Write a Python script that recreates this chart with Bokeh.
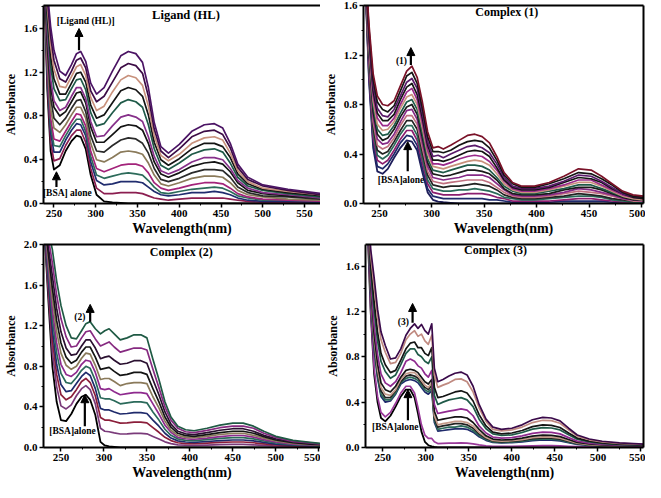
from bokeh.plotting import figure
from bokeh.layouts import column, row
from bokeh.models import (Range1d, SingleIntervalTicker, FixedTicker, LinearAxis, Label, Arrow,
                          NormalHead, NumeralTickFormatter)
from bokeh.embed import file_html
from bokeh.resources import INLINE

FONT = "Liberation Serif"

# ---------------- Panel 1 : Ligand (HL) ----------------
wl_ligand = [238, 242, 246, 250, 257, 264, 271, 277, 282, 288,
             294, 301, 310, 320, 330, 339, 348, 356, 363, 370,
             378, 387, 400, 415, 430, 442, 452, 461, 470, 482,
             500, 530, 570]
ligand_curves = [
    [2.40,1.95,1.62,1.40,1.21,1.17,1.27,1.37,1.39,1.30, 1.10,1.00,1.06,1.21,1.35,1.39,1.37,1.29,1.06,0.74, 0.52,0.46,0.54,0.66,0.72,0.73,0.69,0.55,0.36,0.24, 0.17,0.13,0.09],
    [2.38,1.88,1.53,1.31,1.14,1.11,1.21,1.31,1.33,1.24, 1.03,0.93,0.98,1.11,1.24,1.28,1.26,1.19,0.98,0.68, 0.48,0.42,0.50,0.61,0.66,0.67,0.63,0.51,0.33,0.22, 0.16,0.12,0.08],
    [2.36,1.81,1.44,1.23,1.07,1.06,1.16,1.25,1.27,1.17, 0.97,0.85,0.89,1.02,1.13,1.17,1.15,1.08,0.89,0.62, 0.44,0.39,0.45,0.55,0.60,0.61,0.58,0.46,0.30,0.20, 0.14,0.11,0.08],
    [2.34,1.73,1.35,1.14,1.00,1.00,1.10,1.19,1.20,1.11, 0.90,0.78,0.81,0.92,1.03,1.06,1.04,0.98,0.81,0.56, 0.40,0.35,0.41,0.50,0.55,0.55,0.52,0.42,0.27,0.18, 0.13,0.10,0.07],
    [2.32,1.66,1.26,1.05,0.94,0.95,1.05,1.13,1.14,1.04, 0.83,0.71,0.73,0.83,0.92,0.95,0.93,0.88,0.72,0.50, 0.35,0.31,0.37,0.45,0.49,0.50,0.47,0.37,0.24,0.16, 0.12,0.09,0.06],
    [2.30,1.57,1.14,0.94,0.85,0.88,0.98,1.06,1.06,0.96, 0.75,0.61,0.62,0.71,0.79,0.81,0.79,0.75,0.61,0.43, 0.30,0.27,0.31,0.38,0.42,0.42,0.40,0.32,0.21,0.14, 0.10,0.08,0.05],
    [2.28,1.52,1.07,0.88,0.80,0.84,0.93,1.01,1.02,0.92, 0.70,0.56,0.56,0.63,0.70,0.72,0.71,0.67,0.55,0.38, 0.27,0.24,0.28,0.34,0.37,0.38,0.36,0.29,0.19,0.12, 0.09,0.07,0.05],
    [2.26,1.44,0.97,0.78,0.72,0.78,0.87,0.94,0.95,0.84, 0.62,0.48,0.47,0.53,0.58,0.60,0.59,0.55,0.46,0.32, 0.22,0.20,0.23,0.28,0.31,0.31,0.30,0.24,0.15,0.10, 0.07,0.06,0.04],
    [2.24,1.36,0.87,0.69,0.65,0.72,0.81,0.88,0.88,0.78, 0.55,0.40,0.38,0.42,0.47,0.48,0.47,0.45,0.37,0.26, 0.18,0.16,0.19,0.23,0.25,0.25,0.24,0.19,0.12,0.08, 0.06,0.04,0.03],
    [2.22,1.28,0.78,0.59,0.57,0.66,0.75,0.82,0.81,0.71, 0.48,0.32,0.29,0.32,0.35,0.36,0.36,0.34,0.28,0.19, 0.14,0.12,0.14,0.17,0.19,0.19,0.18,0.14,0.09,0.06, 0.04,0.03,0.02],
    [2.20,1.23,0.71,0.53,0.52,0.62,0.71,0.77,0.77,0.66, 0.43,0.26,0.23,0.25,0.27,0.28,0.27,0.26,0.21,0.15, 0.10,0.09,0.11,0.13,0.14,0.15,0.14,0.11,0.07,0.05, 0.03,0.03,0.02],
    [2.18,1.18,0.65,0.47,0.47,0.58,0.67,0.73,0.72,0.62, 0.38,0.21,0.17,0.18,0.20,0.20,0.20,0.19,0.15,0.11, 0.08,0.07,0.08,0.10,0.10,0.11,0.10,0.08,0.05,0.03, 0.02,0.02,0.01],
    [2.16,1.11,0.56,0.39,0.41,0.53,0.62,0.67,0.67,0.56, 0.32,0.14,0.09,0.09,0.10,0.10,0.10,0.09,0.07,0.05, 0.04,0.03,0.04,0.05,0.05,0.05,0.05,0.04,0.03,0.02, 0.01,0.01,0.01],
]
bsa_ligand = [2.10,1.05,0.48,0.31,0.35,0.48,0.57,0.62,0.61,0.50, 0.26,0.08,0.02,0.01,0.005,0,0,0,0,0, 0,0,0,0,0,0,0,0,0,0, 0,0,0]
colors_ligand = ["#4b1464","#3d0c46","#c8917c","#141414","#1f5a48","#86308a","#141414",
                 "#2a2a2a","#8a7a5a","#a3237a","#2d6b5a","#202c6e","#8b1e50"]

# ---------------- Panel 2 : Complex (1) ----------------
wl_c1 = [236, 240, 244, 248, 253, 258, 264, 270, 276, 281,
         286, 291, 296, 301, 306, 311, 318, 326, 334, 341,
         348, 355, 362, 369, 377, 386, 398, 412, 426, 440,
         452, 462, 472, 482, 492, 502]
c1_curves = [
    [2.00,1.45,1.05,0.87,0.80,0.79,0.83,0.95,1.07,1.11, 1.02,0.82,0.58,0.45,0.46,0.44,0.47,0.51,0.55,0.56, 0.54,0.49,0.38,0.25,0.17,0.14,0.14,0.17,0.22,0.28, 0.27,0.22,0.16,0.10,0.07,0.06],
    [1.99,1.41,1.00,0.82,0.76,0.74,0.79,0.91,1.03,1.06, 0.97,0.77,0.54,0.42,0.42,0.41,0.43,0.47,0.50,0.51, 0.50,0.45,0.35,0.23,0.16,0.13,0.13,0.16,0.20,0.25, 0.24,0.20,0.15,0.09,0.06,0.05],
    [1.98,1.38,0.95,0.77,0.71,0.70,0.76,0.87,0.98,1.01, 0.93,0.73,0.50,0.38,0.39,0.37,0.40,0.43,0.46,0.47, 0.45,0.41,0.32,0.21,0.14,0.12,0.12,0.14,0.18,0.23, 0.22,0.18,0.13,0.08,0.06,0.05],
    [1.97,1.35,0.91,0.73,0.67,0.67,0.72,0.84,0.94,0.97, 0.88,0.69,0.47,0.35,0.35,0.34,0.36,0.39,0.42,0.43, 0.42,0.38,0.29,0.19,0.13,0.11,0.11,0.13,0.17,0.21, 0.20,0.17,0.12,0.08,0.05,0.04],
    [1.96,1.32,0.87,0.69,0.63,0.63,0.69,0.80,0.90,0.93, 0.84,0.65,0.43,0.32,0.32,0.31,0.33,0.36,0.38,0.39, 0.38,0.34,0.27,0.18,0.12,0.10,0.10,0.12,0.15,0.19, 0.19,0.15,0.11,0.07,0.05,0.04],
    [1.95,1.28,0.83,0.64,0.59,0.60,0.66,0.77,0.86,0.88, 0.80,0.61,0.40,0.30,0.29,0.28,0.30,0.32,0.34,0.35, 0.34,0.31,0.24,0.16,0.11,0.09,0.09,0.11,0.14,0.17, 0.17,0.14,0.10,0.06,0.04,0.03],
    [1.94,1.25,0.79,0.60,0.55,0.56,0.63,0.73,0.82,0.84, 0.76,0.57,0.36,0.27,0.26,0.25,0.27,0.29,0.31,0.31, 0.30,0.27,0.21,0.14,0.10,0.08,0.08,0.10,0.12,0.15, 0.15,0.12,0.09,0.06,0.04,0.03],
    [1.93,1.22,0.74,0.56,0.51,0.53,0.60,0.70,0.78,0.80, 0.72,0.53,0.33,0.24,0.23,0.22,0.23,0.25,0.27,0.27, 0.26,0.24,0.19,0.12,0.08,0.07,0.07,0.08,0.11,0.13, 0.13,0.11,0.08,0.05,0.03,0.03],
    [1.92,1.19,0.70,0.52,0.48,0.49,0.56,0.66,0.75,0.76, 0.68,0.49,0.30,0.21,0.20,0.19,0.20,0.21,0.23,0.23, 0.23,0.21,0.16,0.11,0.07,0.06,0.06,0.07,0.09,0.12, 0.11,0.09,0.07,0.04,0.03,0.02],
    [1.91,1.16,0.66,0.47,0.44,0.46,0.53,0.63,0.71,0.71, 0.64,0.45,0.26,0.18,0.17,0.16,0.17,0.18,0.19,0.19, 0.19,0.17,0.13,0.09,0.06,0.05,0.05,0.06,0.08,0.10, 0.09,0.08,0.06,0.04,0.02,0.02],
    [1.90,1.13,0.62,0.43,0.40,0.42,0.50,0.59,0.67,0.67, 0.60,0.41,0.23,0.15,0.14,0.13,0.14,0.14,0.15,0.16, 0.15,0.14,0.11,0.07,0.05,0.04,0.04,0.05,0.06,0.08, 0.07,0.06,0.04,0.03,0.02,0.02],
    [1.90,1.10,0.58,0.39,0.36,0.39,0.47,0.56,0.63,0.63, 0.55,0.37,0.19,0.12,0.11,0.10,0.10,0.11,0.11,0.12, 0.11,0.10,0.08,0.05,0.04,0.03,0.03,0.04,0.05,0.06, 0.06,0.05,0.03,0.02,0.01,0.01],
    [1.90,1.06,0.53,0.35,0.32,0.35,0.43,0.52,0.59,0.59, 0.51,0.33,0.16,0.09,0.08,0.07,0.07,0.07,0.08,0.08, 0.08,0.07,0.05,0.04,0.02,0.02,0.02,0.02,0.03,0.04, 0.04,0.03,0.02,0.01,0.01,0.01],
    [1.90,1.03,0.49,0.30,0.28,0.32,0.40,0.49,0.55,0.54, 0.47,0.29,0.12,0.06,0.05,0.04,0.04,0.04,0.04,0.04, 0.04,0.03,0.03,0.02,0.01,0.01,0.01,0.01,0.02,0.02, 0.02,0.02,0.01,0.01,0.00,0.00],
]
bsa_c1 = [1.90,1.00,0.45,0.26,0.24,0.28,0.37,0.45,0.51,0.50, 0.43,0.25,0.09,0.03,0.015,0.01,0.005,0,0,0, 0,0,0,0,0,0,0,0,0,0, 0,0,0,0,0,0]
colors_c1 = ["#7a1228","#141414","#5a1a6a","#141414","#9a2a8a","#c8917c","#1f5a48",
             "#1a1a1a","#862a86","#c07080","#222222","#2b6a5a","#8b1e6e","#1f2a6b"]

# ---------------- Panel 3 : Complex (2) ----------------
wl_c2 = [231, 235, 240, 245, 250, 256, 262, 268, 274, 279,
         284, 290, 296, 301, 306, 312, 319, 327, 335, 343,
         350, 357, 364, 371, 378, 386, 395, 405, 420, 435,
         450, 462, 474, 486, 500, 520, 540, 552]
c2_curves = [
    [2.30,2.15,1.95,1.64,1.40,1.20,1.08,1.07,1.15,1.22, 1.24,1.17,1.12,1.15,1.17,1.12,1.06,1.08,1.11,1.11, 1.08,0.87,0.67,0.45,0.30,0.21,0.175,0.165,0.19,0.22, 0.24,0.24,0.21,0.16,0.11,0.07,0.05,0.04],
    [2.28,2.08,1.82,1.50,1.27,1.09,0.99,1.00,1.08,1.14, 1.15,1.07,1.00,1.02,1.04,0.99,0.94,0.96,0.98,0.98, 0.96,0.77,0.59,0.40,0.27,0.19,0.155,0.146,0.168,0.195, 0.21,0.21,0.19,0.14,0.10,0.06,0.045,0.035],
    [2.26,2.00,1.69,1.37,1.14,0.98,0.91,0.92,1.00,1.06, 1.06,0.98,0.875,0.89,0.90,0.86,0.82,0.83,0.855,0.855, 0.83,0.67,0.52,0.35,0.23,0.16,0.135,0.127,0.146,0.17, 0.185,0.185,0.16,0.12,0.085,0.054,0.04,0.03],
    [2.24,1.94,1.57,1.25,1.03,0.89,0.83,0.86,0.94,0.99, 0.99,0.89,0.77,0.78,0.79,0.75,0.71,0.72,0.74,0.74, 0.72,0.58,0.45,0.30,0.20,0.14,0.117,0.11,0.127,0.147, 0.16,0.16,0.14,0.107,0.074,0.047,0.034,0.027],
    [2.22,1.88,1.47,1.14,0.93,0.81,0.77,0.80,0.88,0.93, 0.92,0.81,0.67,0.68,0.68,0.65,0.61,0.63,0.64,0.64, 0.63,0.50,0.39,0.26,0.17,0.12,0.10,0.096,0.11,0.128, 0.14,0.14,0.12,0.093,0.064,0.04,0.03,0.023],
    [2.20,1.82,1.36,1.03,0.82,0.72,0.70,0.74,0.82,0.86, 0.85,0.74,0.58,0.57,0.58,0.55,0.52,0.53,0.54,0.54, 0.53,0.43,0.33,0.22,0.15,0.10,0.086,0.081,0.093,0.108, 0.118,0.118,0.103,0.078,0.054,0.034,0.025,0.02],
    [2.18,1.76,1.27,0.93,0.73,0.64,0.63,0.69,0.76,0.80, 0.78,0.66,0.49,0.48,0.48,0.46,0.43,0.44,0.45,0.45, 0.44,0.35,0.27,0.18,0.12,0.085,0.071,0.067,0.077,0.089, 0.097,0.097,0.085,0.065,0.045,0.028,0.02,0.016],
    [2.16,1.70,1.16,0.82,0.62,0.55,0.56,0.63,0.70,0.74, 0.71,0.58,0.385,0.37,0.37,0.35,0.33,0.335,0.344,0.344, 0.335,0.27,0.21,0.14,0.093,0.065,0.054,0.051,0.059,0.068, 0.074,0.074,0.065,0.05,0.034,0.022,0.016,0.012],
    [2.14,1.65,1.06,0.72,0.52,0.47,0.50,0.57,0.65,0.68, 0.64,0.51,0.295,0.27,0.27,0.256,0.24,0.243,0.25,0.25, 0.243,0.196,0.15,0.10,0.068,0.047,0.039,0.037,0.043,0.05, 0.054,0.054,0.047,0.036,0.025,0.016,0.011,0.009],
    [2.12,1.58,0.94,0.60,0.41,0.38,0.42,0.51,0.58,0.61, 0.57,0.43,0.19,0.16,0.155,0.144,0.133,0.135,0.139,0.139, 0.135,0.109,0.084,0.056,0.038,0.026,0.022,0.021,0.024,0.028, 0.03,0.03,0.026,0.02,0.014,0.009,0.006,0.005],
]
bsa_c2 = [2.10,1.50,0.80,0.45,0.27,0.26,0.33,0.43,0.50,0.52, 0.47,0.32,0.055,0.02,0.01,0.005,0,0,0,0, 0,0,0,0,0,0,0,0,0,0, 0,0,0,0,0,0,0,0]
colors_c2 = ["#1f5a44","#862a80","#2a1030","#141414","#8a7a5a","#8e2a8e","#2b6a5a",
             "#1f2a6b","#8b1e3a","#7a3a7a"]

# ---------------- Panel 4 : Complex (3) ----------------
wl_c3 = [232, 236, 240, 244, 248, 253, 259, 265, 271, 277,
         282, 287, 291, 295, 299, 303, 307, 310, 314, 320,
         327, 334, 341, 348, 355, 362, 370, 378, 388, 400,
         412, 424, 436, 446, 456, 466, 476, 490, 505, 525,
         553]
c3_curves = [
    [2.30,1.75,1.50,1.22,1.02,0.90,0.78,0.79,0.87,0.99, 1.05,1.09,1.05,1.085,1.03,1.00,1.09,0.70,0.58,0.60, 0.63,0.655,0.665,0.64,0.54,0.38,0.25,0.18,0.16,0.17, 0.20,0.245,0.265,0.26,0.235,0.17,0.11,0.075,0.055,0.04, 0.03],
    [2.28,1.70,1.42,1.15,0.95,0.84,0.74,0.75,0.83,0.95, 1.00,1.03,0.98,1.00,0.94,0.91,0.99,0.64,0.53,0.55, 0.57,0.60,0.605,0.58,0.49,0.35,0.23,0.16,0.146,0.155, 0.18,0.22,0.24,0.237,0.214,0.155,0.10,0.068,0.05,0.036, 0.027],
    [2.26,1.61,1.29,1.02,0.83,0.73,0.66,0.68,0.77,0.87, 0.92,0.93,0.88,0.88,0.83,0.81,0.88,0.53,0.44,0.45, 0.47,0.49,0.50,0.48,0.41,0.29,0.19,0.135,0.12,0.128, 0.15,0.184,0.20,0.195,0.176,0.128,0.083,0.056,0.041,0.03, 0.023],
    [2.24,1.56,1.21,0.94,0.76,0.67,0.61,0.64,0.73,0.83, 0.87,0.87,0.82,0.80,0.76,0.74,0.80,0.46,0.38,0.40, 0.42,0.43,0.44,0.42,0.36,0.25,0.165,0.12,0.106,0.112, 0.132,0.162,0.175,0.172,0.155,0.112,0.073,0.05,0.036,0.026, 0.02],
    [2.22,1.48,1.08,0.82,0.65,0.57,0.54,0.58,0.66,0.76, 0.78,0.76,0.72,0.70,0.65,0.62,0.68,0.38,0.30,0.31, 0.32,0.33,0.34,0.33,0.28,0.19,0.128,0.092,0.082,0.087, 0.102,0.125,0.135,0.133,0.12,0.087,0.056,0.038,0.028,0.02, 0.015],
    [2.20,1.43,1.00,0.74,0.57,0.51,0.49,0.54,0.62,0.68, 0.69,0.68,0.66,0.62,0.58,0.56,0.60,0.32,0.24,0.25, 0.26,0.27,0.27,0.26,0.22,0.16,0.103,0.074,0.066,0.07, 0.082,0.10,0.109,0.107,0.096,0.07,0.045,0.031,0.023,0.016, 0.012],
    [2.18,1.39,0.95,0.69,0.53,0.47,0.46,0.51,0.60,0.65, 0.66,0.66,0.63,0.59,0.55,0.53,0.57,0.28,0.20,0.21, 0.22,0.23,0.23,0.22,0.19,0.133,0.088,0.063,0.056,0.06, 0.07,0.086,0.093,0.091,0.082,0.06,0.039,0.026,0.019,0.014, 0.011],
    [2.16,1.37,0.92,0.66,0.50,0.44,0.44,0.50,0.58,0.63, 0.64,0.63,0.61,0.57,0.53,0.51,0.55,0.26,0.18,0.19, 0.20,0.21,0.21,0.20,0.17,0.12,0.079,0.057,0.05,0.054, 0.063,0.077,0.083,0.082,0.074,0.054,0.035,0.024,0.017,0.013, 0.009],
    [2.14,1.35,0.89,0.63,0.47,0.42,0.42,0.48,0.57,0.61, 0.62,0.61,0.59,0.55,0.51,0.49,0.52,0.24,0.16,0.17, 0.18,0.18,0.19,0.18,0.15,0.106,0.07,0.05,0.045,0.048, 0.056,0.069,0.074,0.073,0.066,0.048,0.031,0.021,0.015,0.011, 0.008],
    [2.12,1.34,0.86,0.61,0.45,0.40,0.41,0.47,0.56,0.59, 0.60,0.59,0.57,0.53,0.49,0.47,0.50,0.22,0.145,0.15, 0.158,0.164,0.166,0.16,0.135,0.095,0.063,0.045,0.04,0.043, 0.05,0.061,0.066,0.065,0.059,0.043,0.028,0.019,0.014,0.01, 0.008],
    [2.10,1.23,0.70,0.45,0.31,0.27,0.31,0.39,0.48,0.54, 0.54,0.48,0.35,0.20,0.11,0.08,0.08,0.05,0.035,0.036, 0.038,0.039,0.04,0.038,0.032,0.023,0.015,0.011,0.01,0.01, 0.012,0.015,0.016,0.016,0.014,0.01,0.007,0.005,0.003,0.002, 0.002],
]
bsa_c3 = [2.00,1.20,0.65,0.40,0.26,0.23,0.28,0.36,0.45,0.51, 0.51,0.44,0.30,0.14,0.05,0.02,0.01,0.005,0,0, 0,0,0,0,0,0,0,0,0,0, 0,0,0,0,0,0,0,0,0,0, 0]
colors_c3 = ["#3a0a4a","#c08a80","#141414","#1f5a48","#8e2a8e","#141414","#c49a8a",
             "#222222","#2b6a5a","#1f2a6b","#9a3a9a"]


def style_axis(ax, label_size):
    ax.axis_line_width = 2
    ax.axis_line_color = "black"
    ax.major_tick_line_width = 1.5
    ax.major_tick_out = 4
    ax.major_tick_in = 0
    ax.minor_tick_out = 2
    ax.minor_tick_in = 0
    ax.minor_tick_line_width = 1
    ax.major_label_text_font = FONT
    ax.major_label_text_font_style = "bold"
    ax.major_label_text_font_size = "11px"
    ax.major_label_text_color = "black"
    ax.major_label_standoff = 2
    ax.axis_label_text_font = FONT
    ax.axis_label_text_font_style = "bold"
    ax.axis_label_text_font_size = label_size
    ax.axis_label_text_color = "black"


def frame_axis():
    return LinearAxis(ticker=FixedTicker(ticks=[]), major_tick_out=0, major_tick_in=0,
                      minor_tick_out=0, minor_tick_in=0, axis_line_width=2,
                      axis_line_color="black", major_label_standoff=0)


def make_panel(w, h, xr, yr, borders, right_frame, ylabel_size="12px", xlabel_size="14px"):
    left, right, top, bottom = borders
    p = figure(width=w, height=h, x_range=Range1d(*xr), y_range=Range1d(*yr),
               output_backend="svg", toolbar_location=None,
               min_border_left=left, min_border_right=right,
               min_border_top=top, min_border_bottom=bottom)
    p.grid.visible = False
    p.outline_line_color = None
    p.xaxis.ticker = SingleIntervalTicker(interval=50, num_minor_ticks=2)
    p.yaxis.ticker = SingleIntervalTicker(interval=0.4, num_minor_ticks=2)
    p.yaxis.formatter = NumeralTickFormatter(format="0.0")
    style_axis(p.xaxis[0], xlabel_size)
    style_axis(p.yaxis[0], ylabel_size)
    p.xaxis.axis_label = "Wavelength(nm)"
    p.xaxis.axis_label_standoff = 1
    p.yaxis.axis_label = "Absorbance"
    p.yaxis.axis_label_standoff = 3
    p.add_layout(frame_axis(), "above")
    if right_frame:
        p.add_layout(frame_axis(), "right")
    return p


def draw(p, wl, curves, bsa, colors, bsa_color):
    for c in curves:
        assert len(c) == len(wl)
    assert len(bsa) == len(wl)
    p.line(wl, bsa, color=bsa_color, line_width=1.8, line_join="round")
    for vals, col in reversed(list(zip(curves, colors))):
        p.line(wl, vals, color=col, line_width=1.7, line_join="round")


def label(p, x, y, text, size, align="center"):
    p.add_layout(Label(x=x, y=y, text=text, text_font=FONT, text_font_style="bold",
                       text_font_size=size, text_align=align, text_baseline="middle",
                       text_color="black"))


def arrow(p, x, y0, y1):
    p.add_layout(Arrow(end=NormalHead(size=8, fill_color="black", line_color="black"),
                       x_start=x, y_start=y0, x_end=x, y_end=y1,
                       line_width=2.2, line_color="black"))


p1 = make_panel(320, 238, (237.5, 569), (0, 1.81), (31, 0, 1, 33), False)
draw(p1, wl_ligand, ligand_curves, bsa_ligand, colors_ligand, "#000000")
label(p1, 408, 1.72, "Ligand (HL)", "12.5px")
label(p1, 288, 1.67, "[Ligand (HL)]", "9.5px")
arrow(p1, 280, 1.40, 1.60)
label(p1, 266, 0.095, "[BSA] alone", "9.5px")
arrow(p1, 253, 0.15, 0.29)

p2 = make_panel(325, 238, (234.8, 502), (0, 1.6), (43, 2, 5, 33), True)
draw(p2, wl_c1, c1_curves, bsa_c1, colors_c1, "#1e1e5a")
label(p2, 371.5, 1.545, "Complex (1)", "12px")
label(p2, 271, 1.15, "(1)", "9.5px")
arrow(p2, 280, 1.12, 1.26)
label(p2, 270.6, 0.19, "[BSA]alone", "9.5px")
arrow(p2, 277, 0.26, 0.50)

p3 = make_panel(320, 244, (229.7, 552), (0, 2.0), (31, 0, 6, 35), False)
draw(p3, wl_c2, c2_curves, bsa_c2, colors_c2, "#000000")
label(p3, 390, 1.93, "Complex (2)", "12px")
label(p3, 272, 1.29, "(2)", "9.5px")
arrow(p3, 284, 1.24, 1.41)
label(p3, 263.4, 0.165, "[BSA]alone", "9.5px")
arrow(p3, 277.8, 0.21, 0.52)

p4 = make_panel(325, 244, (230, 553), (0, 1.79), (45, 2, 4, 35), True)
draw(p4, wl_c3, c3_curves, bsa_c3, colors_c3, "#000000")
label(p4, 381, 1.74, "Complex (3)", "12px")
label(p4, 274, 1.11, "(3)", "9.5px")
arrow(p4, 284.7, 1.10, 1.27)
label(p4, 264.6, 0.185, "[BSA]alone", "9.5px")
arrow(p4, 279.3, 0.24, 0.51)

layout = column(row(p1, p2), row(p3, p4))
open("out.html", "w").write(file_html(layout, INLINE))
